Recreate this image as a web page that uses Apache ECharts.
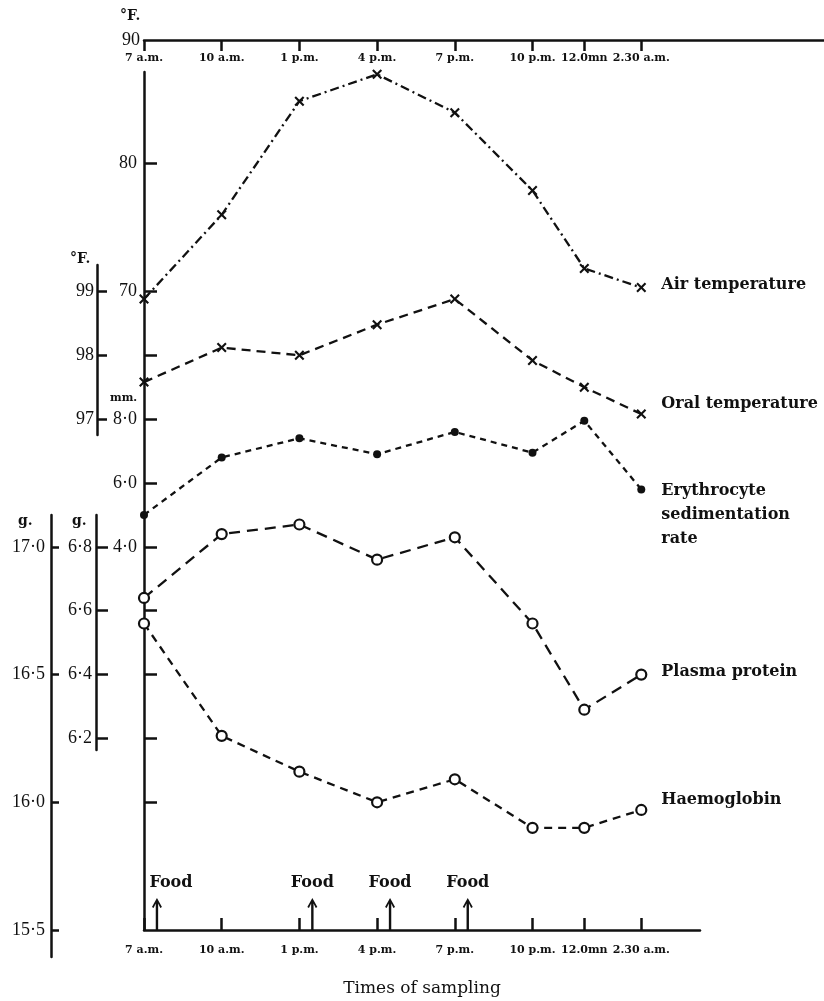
<!DOCTYPE html>
<html><head><meta charset="utf-8">
<script src="https://cdn.jsdelivr.net/npm/echarts@6/dist/echarts.min.js"></script>
<style>html,body{margin:0;padding:0;background:#fff}#c{width:824px;height:1001px}</style>
</head><body><div id="c"></div>
<script>
// ---------- data ----------
const times = ['7 a.m.','10 a.m.','1 p.m.','4 p.m.','7 p.m.','10 p.m.','12.0mn','2.30 a.m.'];
const hours = [0, 3, 6, 9, 12, 15, 17, 19.2];           // hours after 7 a.m. as plotted
const airTemp = [69.4, 76.0, 84.9, 87.0, 84.0, 77.9, 71.8, 70.3];
const oralTemp = [97.58, 98.12, 98.0, 98.48, 98.88, 97.92, 97.5, 97.08];
const esr = [5.0, 6.8, 7.4, 6.9, 7.6, 6.95, 7.95, 5.8];
const plasmaProtein = [6.64, 6.84, 6.87, 6.76, 6.83, 6.56, 6.29, 6.40];
const haemoglobin = [16.70, 16.26, 16.12, 16.00, 16.09, 15.90, 15.90, 15.97];
const foodHours = [0.5, 6.5, 9.5, 12.5];
const airTopLabel = [90];
const airTicks = [80, 70, 65, 60, 55, 50, 45, 40, 35, 30];
const airLabels = [80, 70];
const esrLabels = [8, 6, 4];
const oralTicks = [99, 98, 97];
const plasmaTicks = [6.8, 6.6, 6.4, 6.2];
const haemoTicks = [17.0, 16.5, 16.0, 15.5];

// ---------- layout ----------
const L = 144, Y90 = 36, Y20 = 930, PXH = 25.9;
const TOPLINE = 40, AXIS_TOP = 72;
const W_TOP = 824 - L, W_BOT = 700 - L;
const airAt = y => 90 - (y - Y90) / (Y20 - Y90) * 70;
const oralOf = a => 99 + (a - 70) / 5;
const esrOf = a => 8 + (a - 60) / 2.5;
const plasmaOf = a => 6.8 + (a - 50) * 0.04;
const haemoOf = a => 17 + (a - 50) * 0.05;

const INK = '#111';
const NUMFONT = 'Liberation Serif';
const BFONT = 'DejaVu Serif';
const dot = v => v.toFixed(1).replace('.', '\u00b7');
const crossPath = 'path://M0,1.5L1.5,0L5,3.5L8.5,0L10,1.5L6.5,5L10,8.5L8.5,10L5,6.5L1.5,10L0,8.5L3.5,5Z';
const arrowPath = 'path://M5,0L10,9L8.4,10L6.2,5.6L6.2,32L3.8,32L3.8,5.6L1.6,10L0,9Z';

const gridBox = (top, bottom, width) => ({left: L, top: top, width: width, height: bottom - top,
  containLabel: false, outerBoundsMode: 'none'});
const grids = [
  gridBox(AXIS_TOP, Y20, W_TOP),   // 0 main (air, ESR)
  gridBox(265, 435, W_TOP),        // 1 oral
  gridBox(515, 750, W_TOP),        // 2 plasma
  gridBox(515, 957, W_TOP),        // 3 haemoglobin
  gridBox(TOPLINE, Y20, W_BOT),    // 4 bottom time axis
  gridBox(TOPLINE, Y20, W_TOP)     // 5 top time axis
];

const hiddenX = g => ({type: 'value', gridIndex: g, min: 0, max: W_TOP / PXH, show: false});
const lineAx = {show: true, onZero: false, lineStyle: {color: INK, width: 2.5}};
const numLabel = (vals, fmt, margin) => ({
  show: true, customValues: vals, formatter: fmt, margin: margin,
  color: INK, fontFamily: NUMFONT, fontSize: 18
});
const tick = (vals, len) => ({show: true, inside: true, length: len, customValues: vals,
  lineStyle: {color: INK, width: 2.5}});
const timeLabel = (inside, margin) => ({show: true, inside: inside, customValues: hours, margin: margin,
  formatter: v => times[hours.indexOf(v)], color: INK, fontFamily: BFONT, fontWeight: 'bold', fontSize: 11});

const xAxis = [
  hiddenX(0), hiddenX(1), hiddenX(2), hiddenX(3),
  {type: 'value', gridIndex: 4, position: 'bottom', min: 0, max: W_BOT / PXH,
   axisLine: lineAx, axisTick: tick(hours, 12), splitLine: {show: false},
   axisLabel: timeLabel(false, 15),
   name: 'Times of sampling', nameLocation: 'middle', nameGap: 50,
   nameTextStyle: {color: INK, fontFamily: BFONT, fontSize: 17}},
  {type: 'value', gridIndex: 5, position: 'top', min: 0, max: W_TOP / PXH,
   axisLine: lineAx, axisTick: tick(hours, 11), splitLine: {show: false},
   axisLabel: timeLabel(true, 13)}
];

const yAxis = [
  {type: 'value', gridIndex: 0, position: 'left', min: airAt(Y20), max: airAt(AXIS_TOP),
   axisLine: lineAx, axisTick: tick(airTicks, 13), splitLine: {show: false},
   axisLabel: numLabel(airLabels, v => String(v), 7)},
  {type: 'value', gridIndex: 0, position: 'left', min: esrOf(airAt(Y20)), max: esrOf(airAt(AXIS_TOP)),
   axisLine: {show: false, onZero: false}, axisTick: {show: false}, splitLine: {show: false},
   axisLabel: numLabel(esrLabels, dot, 7)},
  {type: 'value', gridIndex: 1, position: 'left', offset: 47,
   min: oralOf(airAt(435)), max: oralOf(airAt(265)),
   axisLine: lineAx, axisTick: tick(oralTicks, 10), splitLine: {show: false},
   axisLabel: numLabel(oralTicks, v => String(v), 3)},
  {type: 'value', gridIndex: 2, position: 'left', offset: 48,
   min: plasmaOf(airAt(750)), max: plasmaOf(airAt(515)),
   axisLine: lineAx, axisTick: tick(plasmaTicks, 12), splitLine: {show: false},
   axisLabel: numLabel(plasmaTicks, dot, 4)},
  {type: 'value', gridIndex: 3, position: 'left', offset: 93,
   min: haemoOf(airAt(957)), max: haemoOf(airAt(515)),
   axisLine: lineAx, axisTick: tick(haemoTicks, 8), splitLine: {show: false},
   axisLabel: numLabel(haemoTicks, dot, 6)},
  {type: 'value', gridIndex: 4, min: 0, max: 1, show: false},
  {type: 'value', gridIndex: 5, position: 'left', min: airAt(Y20), max: 90,
   axisLine: {show: false, onZero: false}, axisTick: {show: false}, splitLine: {show: false},
   axisLabel: numLabel(airTopLabel, v => String(v), 4)}
];

const pts = arr => hours.map((h, i) => [h, arr[i]]);
const endLab = (text, dy) => ({show: true, formatter: text, distance: 20, offset: [0, dy],
  color: INK, fontFamily: BFONT, fontWeight: 'bold', fontSize: 16, lineHeight: 24, align: 'left'});
const lineSeries = (name, xi, yi, arr, dash, sym) => Object.assign({
  type: 'line', name: name, xAxisIndex: xi, yAxisIndex: yi, data: pts(arr),
  lineStyle: {color: INK, width: 2.3, type: dash}, z: 3, clip: false
}, sym);

const openCircle = {symbol: 'circle', symbolSize: 10,
  itemStyle: {color: '#fff', borderColor: INK, borderWidth: 2.2}};

const series = [
  lineSeries('Air temperature', 0, 0, airTemp, [9, 4, 2, 4],
    {symbol: crossPath, symbolSize: 10, itemStyle: {color: INK}, endLabel: endLab('Air temperature', -3)}),
  lineSeries('Oral temperature', 1, 2, oralTemp, [9, 6],
    {symbol: crossPath, symbolSize: 10, itemStyle: {color: INK}, endLabel: endLab('Oral temperature', -10)}),
  lineSeries('Erythrocyte sedimentation rate', 0, 1, esr, [6, 5],
    {symbol: 'circle', symbolSize: 8, itemStyle: {color: INK}, endLabel: endLab('Erythrocyte\nsedimentation\nrate', 25)}),
  lineSeries('Plasma protein', 2, 3, plasmaProtein, [11, 7],
    Object.assign({endLabel: endLab('Plasma protein', -3)}, openCircle)),
  lineSeries('Haemoglobin', 3, 4, haemoglobin, [8, 6],
    Object.assign({endLabel: endLab('Haemoglobin', -10)}, openCircle)),
  {type: 'scatter', name: 'Food', xAxisIndex: 4, yAxisIndex: 5, clip: false,
   data: foodHours.map((h, i) => i === 0 ? {value: [h, 0], label: {offset: [14, 0]}} : [h, 0]),
   symbol: arrowPath, symbolSize: [10, 32], symbolOffset: [0, -16],
   itemStyle: {color: INK, opacity: 1},
   label: {show: true, position: 'top', distance: 7, formatter: 'Food',
     color: INK, opacity: 1, fontFamily: BFONT, fontWeight: 'bold', fontSize: 16}}
];

const unitText = (x, y, t, size) => ({type: 'text', left: x, top: y,
  style: {text: t, fill: INK, font: 'bold ' + size + 'px "' + BFONT + '"'}});

const option = {
  animation: false,
  backgroundColor: '#fff',
  grid: grids,
  xAxis: xAxis,
  yAxis: yAxis,
  series: series,
  graphic: [
    unitText(120, 9, '\u00b0F.', 14),
    unitText(70, 252, '\u00b0F.', 14),
    unitText(110, 393, 'mm.', 11),
    unitText(18, 514, 'g.', 14),
    unitText(72, 514, 'g.', 14)
  ]
};
const chart = echarts.init(document.getElementById('c'));
chart.setOption(option);
</script>
</body></html>
